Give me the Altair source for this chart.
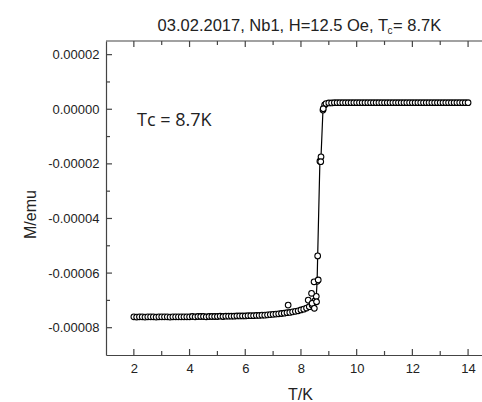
import altair as alt
import pandas as pd

# ---- data ----
T_main = [2.0, 2.1, 2.2, 2.3, 2.4, 2.5, 2.6, 2.7, 2.8, 2.9,
          3.0, 3.1, 3.2, 3.3, 3.4, 3.5, 3.6, 3.7, 3.8, 3.9,
          4.0, 4.1, 4.2, 4.3, 4.4, 4.5, 4.6, 4.7, 4.8, 4.9,
          5.0, 5.1, 5.2, 5.3, 5.4, 5.5, 5.6, 5.7, 5.8, 5.9,
          6.0, 6.1, 6.2, 6.3, 6.4, 6.5, 6.6, 6.7, 6.8, 6.9,
          7.0, 7.1, 7.2, 7.3, 7.4, 7.5, 7.6, 7.7, 7.8, 7.9,
          8.0, 8.1, 8.2, 8.3, 8.4, 8.45, 8.5, 8.55, 8.58, 8.6,
          8.68, 8.72, 8.79, 8.85, 8.9,
          9.0, 9.1, 9.2, 9.3, 9.4, 9.5, 9.6, 9.7, 9.8, 9.9,
          10.0, 10.1, 10.2, 10.3, 10.4, 10.5, 10.6, 10.7, 10.8, 10.9,
          11.0, 11.1, 11.2, 11.3, 11.4, 11.5, 11.6, 11.7, 11.8, 11.9,
          12.0, 12.1, 12.2, 12.3, 12.4, 12.5, 12.6, 12.7, 12.8, 12.9,
          13.0, 13.1, 13.2, 13.3, 13.4, 13.5, 13.6, 13.7, 13.8, 13.9,
          14.0]
M_main = [-7.60e-5, -7.61e-5, -7.60e-5, -7.60e-5, -7.61e-5, -7.60e-5, -7.60e-5, -7.60e-5, -7.61e-5, -7.60e-5,
          -7.60e-5, -7.60e-5, -7.60e-5, -7.61e-5, -7.60e-5, -7.60e-5, -7.60e-5, -7.60e-5, -7.60e-5, -7.60e-5,
          -7.60e-5, -7.59e-5, -7.60e-5, -7.59e-5, -7.59e-5, -7.59e-5, -7.60e-5, -7.59e-5, -7.59e-5, -7.59e-5,
          -7.59e-5, -7.58e-5, -7.59e-5, -7.58e-5, -7.58e-5, -7.58e-5, -7.58e-5, -7.57e-5, -7.57e-5, -7.57e-5,
          -7.57e-5, -7.56e-5, -7.56e-5, -7.56e-5, -7.55e-5, -7.55e-5, -7.54e-5, -7.54e-5, -7.53e-5, -7.52e-5,
          -7.51e-5, -7.50e-5, -7.49e-5, -7.48e-5, -7.47e-5, -7.45e-5, -7.44e-5, -7.42e-5, -7.40e-5, -7.38e-5,
          -7.35e-5, -7.32e-5, -7.28e-5, -7.23e-5, -7.17e-5, -7.10e-5, -7.02e-5, -6.85e-5, -6.30e-5, -5.37e-5,
          -1.90e-5, -1.74e-5, -0.03e-5, 0.16e-5, 0.21e-5,
          0.23e-5, 0.23e-5, 0.24e-5, 0.24e-5, 0.24e-5, 0.24e-5, 0.24e-5, 0.24e-5, 0.24e-5, 0.24e-5,
          0.24e-5, 0.24e-5, 0.24e-5, 0.24e-5, 0.24e-5, 0.24e-5, 0.24e-5, 0.24e-5, 0.24e-5, 0.24e-5,
          0.24e-5, 0.24e-5, 0.24e-5, 0.24e-5, 0.24e-5, 0.24e-5, 0.24e-5, 0.24e-5, 0.24e-5, 0.24e-5,
          0.24e-5, 0.24e-5, 0.24e-5, 0.24e-5, 0.24e-5, 0.24e-5, 0.24e-5, 0.24e-5, 0.24e-5, 0.24e-5,
          0.24e-5, 0.24e-5, 0.24e-5, 0.24e-5, 0.24e-5, 0.24e-5, 0.24e-5, 0.24e-5, 0.24e-5, 0.24e-5,
          0.24e-5]

T_extra = [7.54, 8.26, 8.38, 8.40, 8.47, 8.48, 8.56, 8.62, 8.71, 8.80]
M_extra = [-7.17e-5, -6.99e-5, -6.74e-5, -7.11e-5, -6.32e-5, -7.29e-5, -7.05e-5, -6.25e-5, -1.92e-5, 0.02e-5]

x_labels = [2, 4, 6, 8, 10, 12, 14]
x_minor = [3, 5, 7, 9, 11, 13]
y_labels = [-0.00008, -0.00006, -0.00004, -0.00002, 0.0, 0.00002]
y_minor = [-0.00007, -0.00005, -0.00003, -0.00001, 0.00001]

title_main = "03.02.2017, Nb1, H=12.5 Oe, T"
title_sub = "c"
title_tail = "= 8.7K"
annotation = "Tc = 8.7K"
x_title = "T/K"
y_title = "M/emu"

# ---- layout constants ----
W, H = 376, 314
FONT = "Liberation Sans"
TXT = "#222222"
FRAME = "#444444"

main_df = pd.DataFrame({"T": T_main, "M": M_main})
extra_df = pd.DataFrame({"T": T_extra, "M": M_extra})

xs = alt.Scale(domain=[1, 14.5], nice=False, zero=False)
ys = alt.Scale(domain=[-0.00009, 0.000025], nice=False, zero=False)

label_expr = "(datum.value < -1e-12 ? '-' : '') + format(abs(datum.value), '.5f')"

x_axis = alt.Axis(values=x_labels, ticks=False, grid=False, labelFont=FONT, labelFontSize=13,
                  labelColor=TXT, labelPadding=7, domainColor=FRAME, domainWidth=1.2,
                  title=x_title, titleFont=FONT, titleFontSize=16, titleFontWeight="normal",
                  titleColor=TXT, titleX=194, titleY=44, titleBaseline="alphabetic", titleAlign="center")
y_axis = alt.Axis(values=y_labels, ticks=False, grid=False, labelFont=FONT, labelFontSize=13,
                  labelColor=TXT, labelPadding=7, labelExpr=label_expr, domainColor=FRAME,
                  domainWidth=1.2, title=y_title, titleFont=FONT, titleFontSize=16,
                  titleFontWeight="normal", titleColor=TXT, titleX=-71, titleY=173,
                  titleBaseline="alphabetic", titleAlign="center", titleAngle=-90)

line = alt.Chart(main_df).mark_line(color="black", strokeWidth=1.2).encode(
    x=alt.X("T:Q", scale=xs, axis=x_axis),
    y=alt.Y("M:Q", scale=ys, axis=y_axis),
)
pts = alt.Chart(main_df).mark_circle(fill="white", stroke="black", strokeWidth=1.1,
                                     size=32, opacity=1).encode(
    x=alt.X("T:Q", scale=xs), y=alt.Y("M:Q", scale=ys))
pts2 = alt.Chart(extra_df).mark_circle(fill="white", stroke="black", strokeWidth=1.1,
                                       size=32, opacity=1).encode(
    x=alt.X("T:Q", scale=xs), y=alt.Y("M:Q", scale=ys))

# inward ticks
xmaj_df = pd.DataFrame({"T": x_labels})
xmin_df = pd.DataFrame({"T": x_minor})
ymaj_df = pd.DataFrame({"M": y_labels})
ymin_df = pd.DataFrame({"M": y_minor})

def xticks(df, y0, y1):
    return alt.Chart(df).mark_rule(color=FRAME, strokeWidth=1.2).encode(
        x=alt.X("T:Q", scale=xs), y=alt.value(y0), y2=alt.value(y1))

def yticks(df, x0, x1):
    return alt.Chart(df).mark_rule(color=FRAME, strokeWidth=1.2).encode(
        y=alt.Y("M:Q", scale=ys), x=alt.value(x0), x2=alt.value(x1))

ticks = [xticks(xmaj_df, H, H - 6), xticks(xmin_df, H, H - 4),
         xticks(xmaj_df, 0, 6), xticks(xmin_df, 0, 4),
         yticks(ymaj_df, 0, 6), yticks(ymin_df, 0, 4)]

top_line = alt.Chart(pd.DataFrame({"a": [0]})).mark_rule(color=FRAME, strokeWidth=1.2).encode(
    x=alt.value(0), x2=alt.value(W), y=alt.value(0))

def txt(s, x, y, size, align, font=FONT):
    return alt.Chart(pd.DataFrame({"s": [s]})).mark_text(
        font=font, fontSize=size, color=TXT, align=align, baseline="alphabetic").encode(
        text="s:N", x=alt.value(x), y=alt.value(y))

t1 = txt(title_main, 282, -10.5, 16.5, "right")
t2 = txt(title_sub, 281.5, -7.5, 10, "left")
t3 = txt(title_tail, 287, -10.5, 16.5, "left")
ann = txt(annotation, 31, 85, 18, "left", font="Open Sans")

chart = alt.layer(line, pts, pts2, *ticks, top_line, t1, t2, t3, ann).properties(
    width=W, height=H,
    autosize=alt.AutoSizeParams(type="none"),
    padding={"left": 106, "top": 41, "right": 0, "bottom": 47},
).configure_view(strokeWidth=0)

chart.save("out.html", embed_options={"renderer": "svg", "actions": False})
